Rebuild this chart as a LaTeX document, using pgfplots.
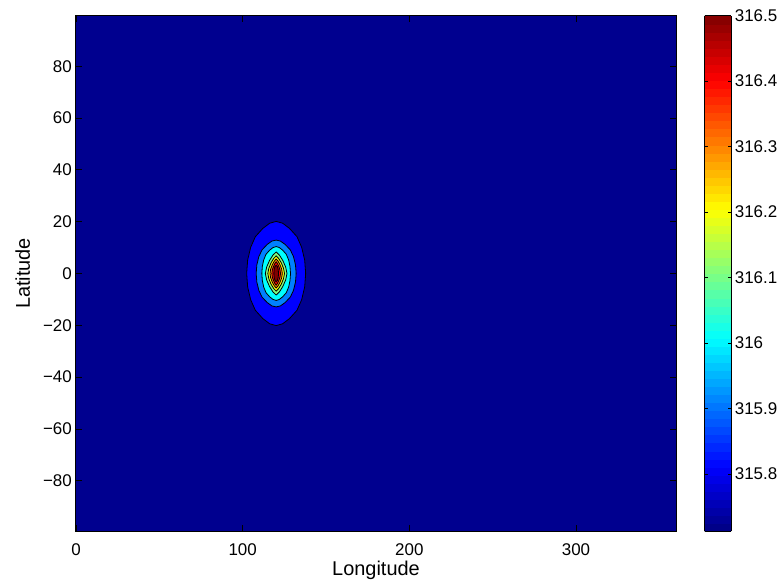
\documentclass[border=0pt]{standalone}
\usepackage{fontspec}
\setmainfont{Liberation Sans}
\usepackage{pgfplots}
\pgfplotsset{compat=1.18}
\definecolor{jbg}{RGB}{0,0,143}
\definecolor{c1}{RGB}{0,0,255}
\definecolor{c2}{RGB}{0,128,255}
\definecolor{c3}{RGB}{0,255,255}
\definecolor{c4}{RGB}{128,255,128}
\definecolor{c5}{RGB}{255,255,0}
\definecolor{c6}{RGB}{255,128,0}
\definecolor{c7}{RGB}{255,0,0}
\definecolor{c8}{RGB}{128,0,0}
\begin{document}
\begin{tikzpicture}
\begin{axis}[
 at={(0,0)}, anchor=south west,
 scale only axis, width=600bp, height=515.6bp,
 xmin=0, xmax=360, ymin=-99.5, ymax=99.5,
 axis background/.style={fill=jbg},
 xtick={0,100,200,300}, xticklabels={0,100,200,300},
 ytick={-80,-60,-40,-20,0,20,40,60,80},
 yticklabels={−80,−60,−40,−20,0,20,40,60,80},
 tick align=inside, major tick length=6bp,
 tick style={black, line width=0.8bp},
 axis line style={line width=1bp},
 tick label style={font=\fontsize{17}{20}\selectfont},
 xticklabel style={inner sep=0pt, yshift=-12bp},
 yticklabel style={inner sep=0pt, xshift=-4bp},
 xlabel={Longitude}, ylabel={Latitude},
 label style={font=\fontsize{20}{24}\selectfont, inner sep=0pt},
 xlabel style={at={(axis description cs:0.5,-0.0861)}, anchor=base},
 ylabel style={at={(axis description cs:-0.07667,0.5)}, anchor=base},
 colormap/jet,
 colorbar sampled,
 point meta min=315.7125, point meta max=316.5,
 colorbar style={
   at={(parent axis.north east)}, anchor=north west, xshift=20bp,
   scale only axis, width=26.7bp, height=515.6bp,
   samples=65,
   ytick={315.8,315.9,316,316.1,316.2,316.3,316.4,316.5},
   yticklabels={315.8,315.9,316,316.1,316.2,316.3,316.4,316.5},
   ytick pos=both, yticklabel pos=right,
   tick align=inside, major tick length=3bp,
   tick style={black, line width=0.8bp},
   axis line style={line width=1bp},
   yticklabel style={inner sep=0pt, xshift=3.5bp, font=\fontsize{17}{20}\selectfont},
 },
]
\addplot[fill=c1, draw=black, line width=0.8bp] coordinates {
(120.1,20.1) (124.0,19.4) (128.1,17.4) (132.6,14.2) (135.4,10.1) (137.2,5.2) (137.8,0) (137.2,-5.2) (135.4,-10.1) (132.6,-14.2) (128.1,-17.4) (124.0,-19.4) (120.1,-20.1) (116.2,-19.4) (112.1,-17.4) (107.6,-14.2) (104.8,-10.1) (103.0,-5.2) (102.4,0) (103.0,5.2) (104.8,10.1) (107.6,14.2) (112.1,17.4) (116.2,19.4)
} -- cycle;
\addplot[fill=c2, draw=black, line width=0.8bp] coordinates {
(120.1,12.9) (122.7,12.5) (125.5,11.2) (128.6,9.1) (130.5,6.5) (131.7,3.3) (132.1,0) (131.7,-3.3) (130.5,-6.5) (128.6,-9.1) (125.5,-11.2) (122.7,-12.5) (120.1,-12.9) (117.5,-12.5) (114.7,-11.2) (111.6,-9.1) (109.7,-6.5) (108.5,-3.3) (108.1,0) (108.5,3.3) (109.7,6.5) (111.6,9.1) (114.7,11.2) (117.5,12.5)
} -- cycle;
\addplot[fill=c3, draw=black, line width=0.8bp] coordinates {
(120.1,10.4) (122.0,10.0) (124.0,9.0) (126.2,7.4) (127.6,5.2) (128.4,2.7) (128.7,0) (128.4,-2.7) (127.6,-5.2) (126.2,-7.4) (124.0,-9.0) (122.0,-10.0) (120.1,-10.4) (118.2,-10.0) (116.2,-9.0) (114.0,-7.4) (112.6,-5.2) (111.8,-2.7) (111.5,0) (111.8,2.7) (112.6,5.2) (114.0,7.4) (116.2,9.0) (118.2,10.0)
} -- cycle;
\addplot[fill=c4, draw=black, line width=0.8bp] coordinates {
(120.1,8.3) (122.05,7.1) (124.1,5.0) (125.8,2.5) (126.6,0) (125.8,-2.5) (124.1,-5.0) (122.05,-7.1) (120.1,-8.3) (118.15,-7.1) (116.1,-5.0) (114.4,-2.5) (113.6,0) (114.4,2.5) (116.1,5.0) (118.15,7.1)
} -- cycle;
\addplot[fill=c5, draw=black, line width=0.8bp] coordinates {
(120.1,6.8) (121.6,5.8) (123.2,4.1) (124.5,2.0) (125.1,0) (124.5,-2.0) (123.2,-4.1) (121.6,-5.8) (120.1,-6.8) (118.6,-5.8) (117.0,-4.1) (115.7,-2.0) (115.1,0) (115.7,2.0) (117.0,4.1) (118.6,5.8)
} -- cycle;
\addplot[fill=c6, draw=black, line width=0.8bp] coordinates {
(120.1,5.6) (121.2,4.8) (122.4,3.4) (123.4,1.7) (123.8,0) (123.4,-1.7) (122.4,-3.4) (121.2,-4.8) (120.1,-5.6) (119.0,-4.8) (117.8,-3.4) (116.8,-1.7) (116.4,0) (116.8,1.7) (117.8,3.4) (119.0,4.8)
} -- cycle;
\addplot[fill=c7, draw=black, line width=0.8bp] coordinates {
(120.1,4.5) (120.9,3.8) (121.7,2.7) (122.4,1.35) (122.7,0) (122.4,-1.35) (121.7,-2.7) (120.9,-3.8) (120.1,-4.5) (119.3,-3.8) (118.5,-2.7) (117.8,-1.35) (117.5,0) (117.8,1.35) (118.5,2.7) (119.3,3.8)
} -- cycle;
\addplot[fill=c8, draw=black, line width=0.8bp] coordinates {
(120.1,3.2) (120.8,2.7) (121.2,1.9) (121.4,1.0) (121.5,0) (121.4,-1.0) (121.2,-1.9) (120.8,-2.7) (120.1,-3.2) (119.4,-2.7) (119.0,-1.9) (118.8,-1.0) (118.7,0) (118.8,1.0) (119.0,1.9) (119.4,2.7)
} -- cycle;
\end{axis}
\pgfresetboundingbox
\useasboundingbox (-76bp,-49.7bp) rectangle (701bp,531.3bp);
\end{tikzpicture}
\end{document}
